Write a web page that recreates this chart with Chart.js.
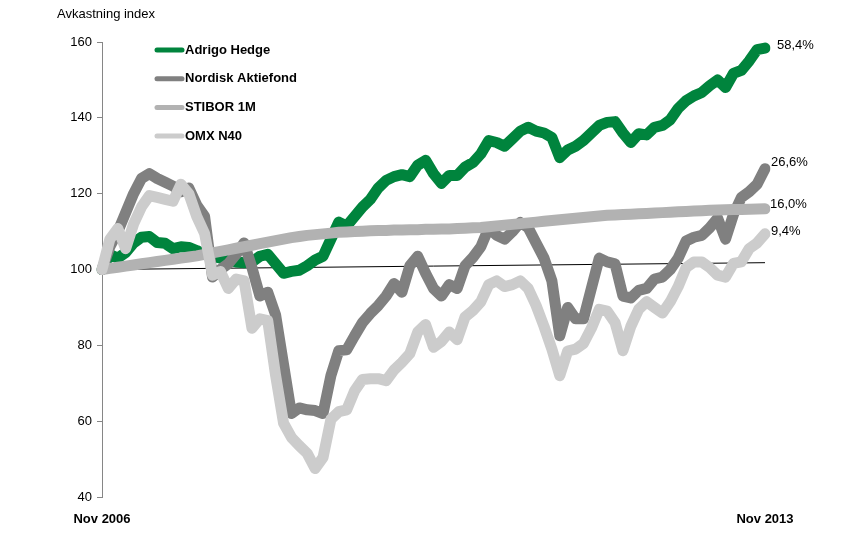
<!DOCTYPE html>
<html>
<head>
<meta charset="utf-8">
<script src="https://cdn.jsdelivr.net/npm/chart.js@4.4.1/dist/chart.umd.min.js"></script>
<style>
  html, body { margin: 0; padding: 0; background: #fff; }
  #wrap { width: 863px; height: 533px; }
</style>
</head>
<body>
<div id="wrap"><canvas id="chart"></canvas></div>
<script>
// Monthly index values, Nov 2006 = 100
const seriesNames = ['Adrigo Hedge', 'Nordisk Aktiefond', 'STIBOR 1M', 'OMX N40'];
const seriesColors = ['#00843d', '#808080', '#b2b2b2', '#cccccc'];

const adrigoHedge = [
  100, 104, 103, 104.5, 107, 108.5, 108.7, 107.1, 106.9, 105.5,
  106, 105.8, 105, 104, 103.5, 103, 102.5, 102, 101.8, 102,
  103.5, 104, 101.5, 99, 99.5, 99.8, 101, 102.5, 103.5, 108,
  112.5, 111.5, 114, 116.5, 118.5, 121.5, 123.5, 124.5, 125, 124.5,
  127.5, 128.8, 125.3, 122.7, 124.8, 124.8, 127, 128.2, 130.5, 134,
  133.5, 132.5, 134.5, 136.5, 137.5, 136.5, 136, 134.8, 129.5, 131.5,
  132.5, 134, 136, 138, 138.8, 139, 136, 133.5, 135.8, 135.5,
  137.5, 138, 139.5, 142.5, 144.5, 145.8, 146.7, 148.5, 150, 148,
  151.7, 152.5, 155, 158, 158.4
];

const nordiskAktiefond = [
  100, 106, 110, 115, 120, 124, 125.3, 124, 123, 122,
  120.5, 121.5, 117, 114, 98, 100, 101.5, 104, 107, 100.5,
  93, 94, 88, 75, 62, 63.5, 63, 62.8, 62, 72,
  78.6, 78.8, 82.5, 86, 88.4, 90.5, 93, 96.3, 94, 101,
  103.5, 99, 95, 93, 96, 95, 101, 103.2, 106, 111,
  109, 108, 110, 112.4, 111, 107, 103, 97, 82.5, 90,
  87, 87, 95, 103, 102, 101.5, 93, 92.5, 94.5, 95,
  97.5, 98, 100, 103, 107.5, 108.5, 109, 111, 113.5, 108,
  114.5, 119, 120.5, 122.5, 126.6
];

const stibor1M = [
  100, 100.3, 100.6, 100.9, 101.2, 101.5, 101.8, 102.1, 102.4, 102.7,
  103, 103.3, 103.6, 104, 104.4, 104.8, 105.2, 105.6, 106, 106.4,
  106.8, 107.2, 107.6, 108, 108.4, 108.7, 109, 109.2, 109.4, 109.6,
  109.8, 109.9, 110, 110.1, 110.2, 110.3, 110.3, 110.4, 110.4, 110.5,
  110.5, 110.6, 110.6, 110.7, 110.7, 110.8, 110.9, 111, 111.1, 111.3,
  111.5, 111.7, 111.9, 112.1, 112.3, 112.5, 112.7, 112.9, 113.1, 113.3,
  113.5, 113.7, 113.9, 114.1, 114.3, 114.4, 114.5, 114.6, 114.7, 114.8,
  114.9, 115, 115.1, 115.2, 115.3, 115.4, 115.5, 115.6, 115.7, 115.75,
  115.8, 115.85, 115.9, 115.95, 116
];

const omxN40 = [
  100, 108, 110.8, 105.5, 112, 116.5, 119.5, 119, 118.5, 118,
  122.5, 120, 114, 109.5, 98.5, 99.5, 95, 97.5, 97, 84.5,
  87, 86.5, 72, 59.5, 55.7, 53.5, 51.5, 47.5, 50.4, 60.5,
  62.5, 63, 68, 71, 71.2, 71.2, 70.7, 73.5, 75.5, 77.8,
  83.5, 85.5, 79.5, 81, 83.5, 81.5, 87.5, 89.2, 91.5, 96,
  97, 95.5, 96, 97, 95, 90.5, 85, 79, 72, 78.5,
  79, 80.5, 84.5, 89.5, 89, 86, 78.6, 85, 89.5, 91.5,
  90, 88.5, 91.5, 95.5, 100.5, 102, 102, 100.5, 98.5, 98,
  101.6, 102, 105.5, 107, 109.4
];

// thin reference line: start and end level
const refLine = [100, 101.8];

const yTicks = [40, 60, 80, 100, 120, 140, 160];

// month labels Nov 2006 .. Nov 2013
const monthNames = ['Jan', 'Feb', 'Mar', 'Apr', 'May', 'Jun', 'Jul', 'Aug', 'Sep', 'Oct', 'Nov', 'Dec'];
const months = [];
for (let i = 0; i < adrigoHedge.length; i++) {
  const m = (10 + i) % 12;
  const y = 2006 + Math.floor((10 + i) / 12);
  months.push(monthNames[m] + ' ' + y);
}

const FONT = '"Liberation Sans", Arial, sans-serif';

const allSeries = [adrigoHedge, nordiskAktiefond, stibor1M, omxN40];

// nudge of each end label from its last point
const endLabelShift = [[12, -3], [6, -6], [5, -4], [6, -2]];

const datasets = allSeries.map((vals, i) => ({
  label: seriesNames[i],
  data: vals,
  borderColor: seriesColors[i],
  backgroundColor: seriesColors[i],
  borderWidth: 11,
  borderCapStyle: 'round',
  borderJoinStyle: 'round',
  pointRadius: 0,
  tension: 0,
  order: 4 - i
}));

datasets.push({
  label: 'ref',
  data: [{ x: months[0], y: refLine[0] }, { x: months[months.length - 1], y: refLine[1] }],
  borderColor: '#000',
  borderWidth: 1,
  pointRadius: 0,
  order: 10
});

// legend drawn inside the plot, top-left
const legendPlugin = {
  id: 'insideLegend',
  afterDraw(chart) {
    const ctx = chart.ctx;
    ctx.save();
    // axis title
    ctx.font = '13px ' + FONT;
    ctx.fillStyle = '#000';
    ctx.textBaseline = 'middle';
    ctx.textAlign = 'left';
    ctx.fillText('Avkastning index', 57, 14);

    ctx.font = 'bold 13px ' + FONT;
    seriesNames.forEach((name, i) => {
      const y = 50 + i * 28.7;
      ctx.strokeStyle = seriesColors[i];
      ctx.lineWidth = 5;
      ctx.lineCap = 'round';
      ctx.beginPath();
      ctx.moveTo(157, y);
      ctx.lineTo(182, y);
      ctx.stroke();
      ctx.fillStyle = '#000';
      ctx.fillText(name, 185, y);
    });
    ctx.restore();
  }
};

// end-of-line return labels
const endLabelPlugin = {
  id: 'endLabels',
  afterDatasetsDraw(chart) {
    const ctx = chart.ctx;
    ctx.save();
    ctx.font = '13px ' + FONT;
    ctx.fillStyle = '#000';
    ctx.textBaseline = 'middle';
    ctx.textAlign = 'left';
    allSeries.forEach((vals, i) => {
      const meta = chart.getDatasetMeta(i);
      const pt = meta.data[meta.data.length - 1];
      const ret = (vals[vals.length - 1] - 100).toFixed(1).replace('.', ',') + '%';
      ctx.fillText(ret, pt.x + endLabelShift[i][0], pt.y + endLabelShift[i][1]);
    });
    ctx.restore();
  }
};

new Chart(document.getElementById('chart'), {
  type: 'line',
  data: { labels: months, datasets: datasets },
  options: {
    responsive: true,
    maintainAspectRatio: false,
    animation: false,
    layout: { padding: { left: 0, right: 98, top: 42, bottom: 0 } },
    plugins: {
      legend: { display: false },
      tooltip: { enabled: false }
    },
    scales: {
      x: {
        offset: false,
        grid: { display: false },
        border: { display: false },
        ticks: {
          autoSkip: false,
          maxRotation: 0,
          color: '#000',
          padding: 7,
          font: { family: FONT, size: 13, weight: 'bold' },
          callback: (v, i) => (i === 0 || i === months.length - 1) ? months[i] : ''
        },
        afterFit: s => { s.height = 36; }
      },
      y: {
        min: yTicks[0],
        max: yTicks[yTicks.length - 1],
        afterBuildTicks: s => { s.ticks = yTicks.map(v => ({ value: v })); },
        grid: { drawOnChartArea: false, drawTicks: true, tickLength: 5, color: '#868686' },
        border: { display: true, color: '#868686', width: 1 },
        ticks: { color: '#000', padding: 5, font: { family: FONT, size: 13 } },
        afterFit: s => { s.width = 102; }
      }
    }
  },
  plugins: [legendPlugin, endLabelPlugin]
});
</script>
</body>
</html>
